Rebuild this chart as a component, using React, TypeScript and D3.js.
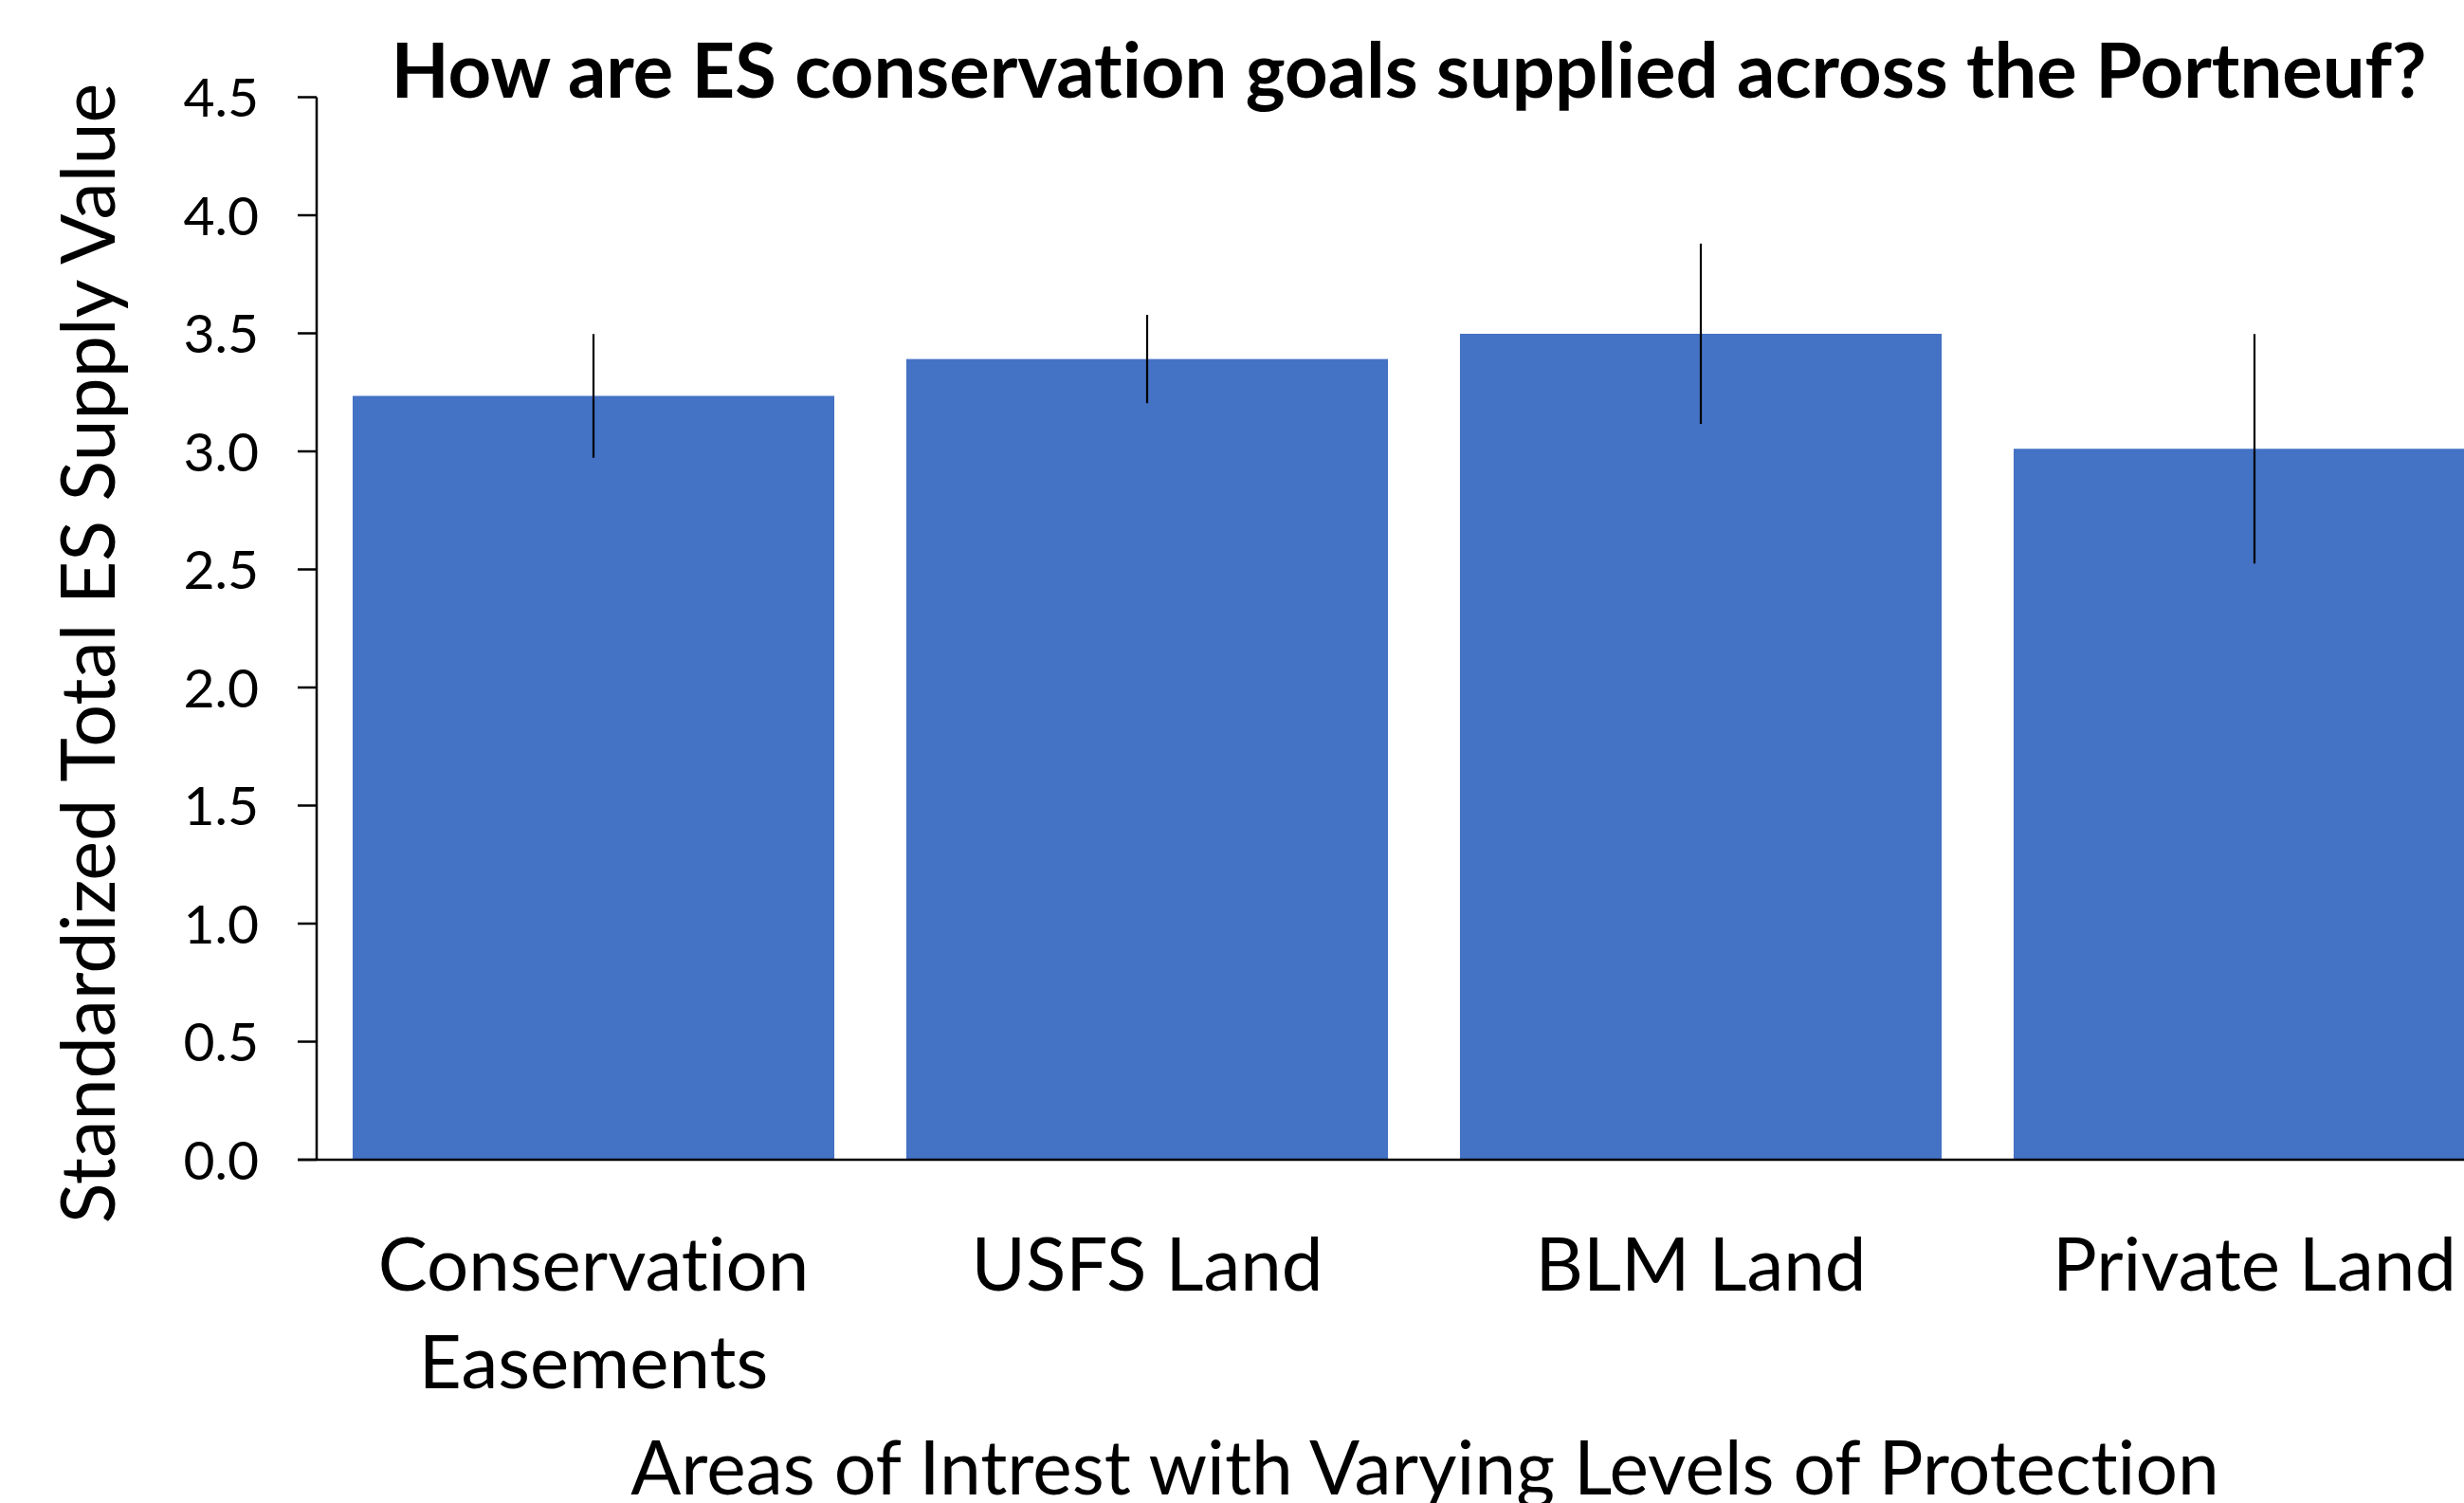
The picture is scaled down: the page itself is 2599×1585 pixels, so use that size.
import React from "react";
import * as d3 from "d3";

const categories: string[][] = [
  ["Conservation", "Easements"],
  ["USFS Land"],
  ["BLM Land"],
  ["Private Land"],
];
const values: number[] = [3.235, 3.391, 3.498, 3.011];
const errors: number[] = [0.262, 0.187, 0.382, 0.486];
const yTicks: number[] = [0, 0.5, 1, 1.5, 2, 2.5, 3, 3.5, 4, 4.5];

const W = 2599;
const H = 1585;
const FONT = "Lato, 'Noto Sans', sans-serif";

export default function App() {
  const x0 = 334;
  const y = d3.scaleLinear().domain([0, 4.5]).range([1223, 102.5]);
  const x = d3
    .scaleBand<number>()
    .domain(d3.range(categories.length))
    .range([x0, x0 + 584 * 4])
    .paddingInner(0.13)
    .paddingOuter(0.065);

  const textStyle = { fontVariantLigatures: "none" as const, fontFeatureSettings: '"liga" 0, "clig" 0' };

  return (
    <svg
      width={W}
      height={H}
      style={{ position: "absolute", left: 0, top: 0, background: "#fff" }}
      fontFamily={FONT}
    >
      <rect x={0} y={0} width={W} height={H} fill="#fff" />
      {/* bars */}
      {values.map((v, i) => (
        <rect
          key={"b" + i}
          x={x(i)!}
          y={y(v)}
          width={x.bandwidth()}
          height={y(0) - y(v)}
          fill="#4472C4"
        />
      ))}
      {/* error bars */}
      {values.map((v, i) => (
        <line
          key={"e" + i}
          x1={x(i)! + x.bandwidth() / 2}
          x2={x(i)! + x.bandwidth() / 2}
          y1={y(v + errors[i])}
          y2={y(v - errors[i])}
          stroke="#000"
          strokeWidth={2.2}
        />
      ))}
      {/* y axis */}
      <line x1={x0} x2={x0} y1={y(4.5)} y2={y(0)} stroke="#000" strokeWidth={2.5} />
      {yTicks.map((t) => (
        <g key={"t" + t}>
          <line x1={x0 - 20} x2={x0} y1={y(t)} y2={y(t)} stroke="#000" strokeWidth={2.5} />
          <text
            x={273}
            y={y(t)}
            dy="0.36em"
            textAnchor="end"
            fontSize={57}
            fill="#000"
            style={textStyle}
          >
            {t.toFixed(1)}
          </text>
        </g>
      ))}
      {/* x axis */}
      <line x1={x0 - 20} x2={W} y1={y(0)} y2={y(0)} stroke="#000" strokeWidth={2.5} />
      {categories.map((lines, i) => (
        <text
          key={"c" + i}
          x={x(i)! + x.bandwidth() / 2}
          y={1361}
          textAnchor="middle"
          fontSize={78}
          fill="#000"
          style={textStyle}
        >
          {lines.map((l, j) => (
            <tspan key={j} x={x(i)! + x.bandwidth() / 2} dy={j === 0 ? 0 : 103}>
              {l}
            </tspan>
          ))}
        </text>
      ))}
      {/* axis titles */}
      <text x={1503} y={1576} textAnchor="middle" fontSize={78.5} fill="#000" style={textStyle}>
        Areas of Intrest with Varying Levels of Protection
      </text>
      <text
        transform={`translate(121, 689) rotate(-90)`}
        textAnchor="middle"
        fontSize={79}
        fill="#000"
        style={textStyle}
      >
        Standardized Total ES Supply Value
      </text>
      {/* title */}
      <text
        x={1486}
        y={103}
        textAnchor="middle"
        fontSize={79.5}
        fontWeight="bold"
        fill="#000"
        style={textStyle}
      >
        How are ES conservation goals supplied across the Portneuf?
      </text>
    </svg>
  );
}
